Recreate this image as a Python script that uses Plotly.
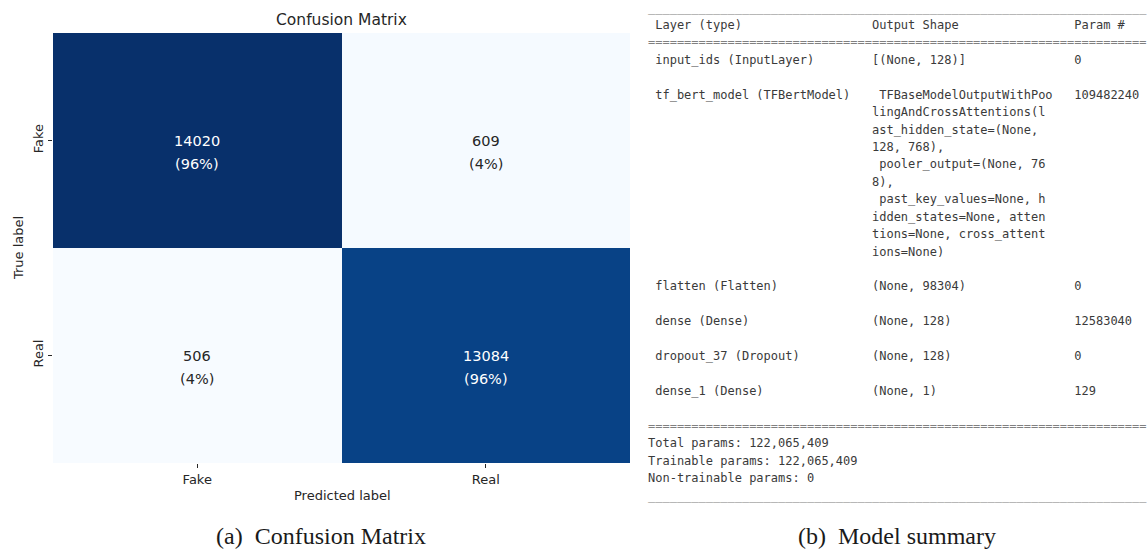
import plotly.graph_objects as go

W, H = 1147, 551

# ---- confusion matrix data ----
class_labels = ["Fake", "Real"]
row_fake = [14020, 609]
row_real = [506, 13084]
cm_rows = [row_fake, row_real]

# ---- model summary data ----
layer_names = [
    "input_ids (InputLayer)",
    "tf_bert_model (TFBertModel)",
    "flatten (Flatten)",
    "dense (Dense)",
    "dropout_37 (Dropout)",
    "dense_1 (Dense)",
]
output_shapes = [
    ["[(None, 128)]"],
    [" TFBaseModelOutputWithPoo", "lingAndCrossAttentions(l", "ast_hidden_state=(None,",
     "128, 768),", " pooler_output=(None, 76", "8),", " past_key_values=None, h",
     "idden_states=None, atten", "tions=None, cross_attent", "ions=None)"],
    ["(None, 98304)"],
    ["(None, 128)"],
    ["(None, 128)"],
    ["(None, 1)"],
]
param_counts = ["0", "109482240", "0", "12583040", "0", "129"]
summary_totals = [
    "Total params: 122,065,409",
    "Trainable params: 122,065,409",
    "Non-trainable params: 0",
]
header = ("Layer (type)", "Output Shape", "Param #")

# Blues colormap stops
blues = ["#f7fbff", "#deebf7", "#c6dbef", "#9ecae1", "#6baed6",
         "#4292c6", "#2171b5", "#08519c", "#08306b"]
colorscale = [[i / (len(blues) - 1), c] for i, c in enumerate(blues)]

flat = [v for r in cm_rows for v in r]
zmin, zmax = min(flat), max(flat)

fig = go.Figure()
fig.add_trace(go.Heatmap(
    z=cm_rows, x=class_labels, y=class_labels,
    colorscale=colorscale, zmin=zmin, zmax=zmax, showscale=False,
    hoverinfo="skip", xgap=0, ygap=0,
))

annotations = []
label_font = dict(family="DejaVu Sans", size=13, color="#262626")

# cell labels: count and row percentage
for ri, row in enumerate(cm_rows):
    total = sum(row)
    for ci, v in enumerate(row):
        col = "white" if v > (zmin + zmax) / 2 else "#262626"
        pct = round(100 * v / total)
        for txt, shift in ((str(v), 0), ("(%d%%)" % pct, -23)):
            annotations.append(dict(
                x=class_labels[ci], y=class_labels[ri], xref="x", yref="y",
                xanchor="center", yanchor="middle",
                text=txt, showarrow=False, yshift=shift,
                font=dict(family="DejaVu Sans", size=14.5, color=col),
            ))

def px(x, y):
    return x / W, 1 - y / H

# panel titles
for txt, (x, y), size, angle in [
    ("Confusion Matrix", (341.5, 20), 15.5, 0),
    ("Predicted label", (342, 495), 13, 0),
    ("True label", (18, 248), 13, -90),
]:
    xx, yy = px(x, y)
    annotations.append(dict(x=xx, y=yy, xref="paper", yref="paper", text=txt,
                            xanchor="center", yanchor="middle",
                            showarrow=False, textangle=angle,
                            font=dict(family="DejaVu Sans", size=size, color="#262626")))

# ---- summary text lines ----
NB = "\u00a0"
COL1, COL2 = 31, 59
RULE_LEN = 69
lines = []
lines.append(("rule", "_" * RULE_LEN))
lines.append(("text", (" " + header[0]).ljust(COL1) + header[1].ljust(COL2 - COL1) + header[2]))
lines.append(("rule", "=" * RULE_LEN))
for name, shapes, params in zip(layer_names, output_shapes, param_counts):
    lines.append(("text", (" " + name).ljust(COL1) + shapes[0].ljust(COL2 - COL1) + params))
    for cont in shapes[1:]:
        lines.append(("text", " " * COL1 + cont))
    lines.append(("text", ""))
lines.append(("rule", "=" * RULE_LEN))
for t in summary_totals:
    lines.append(("text", t))
lines.append(("rule", "_" * RULE_LEN))

line_h = 17.43
y0 = 7.6
x_text = 645.5
for i, (kind, s) in enumerate(lines):
    if not s:
        continue
    xx, yy = px(x_text, y0 + i * line_h)
    annotations.append(dict(
        x=xx, y=yy, xref="paper", yref="paper", xanchor="left", yanchor="middle",
        text=s.replace(" ", NB), showarrow=False, align="left",
        font=dict(family="DejaVu Sans Mono", size=12,
                  color="#808080" if kind == "rule" else "#3a3a3a"),
    ))

# sub-figure captions
for txt, x in (("(a)" + NB + NB + "Confusion Matrix", 321), ("(b)" + NB + NB + "Model summary", 897)):
    xx, yy = px(x, 535.5)
    annotations.append(dict(x=xx, y=yy, xref="paper", yref="paper", text=txt,
                            xanchor="center", yanchor="middle", showarrow=False,
                            borderpad=0,
                            font=dict(family="Liberation Serif", size=24, color="#1a1a1a")))

axis_common = dict(showgrid=False, zeroline=False, showline=False,
                   ticks="outside", ticklen=4, tickwidth=1, tickcolor="#262626",
                   tickfont=label_font, automargin=False, fixedrange=True)

fig.update_layout(
    width=W, height=H,
    margin=dict(l=0, r=0, t=0, b=0),
    paper_bgcolor="white", plot_bgcolor="white",
    xaxis=dict(domain=[53 / W, 630 / W], **axis_common),
    yaxis=dict(domain=[1 - 463 / H, 1 - 33 / H], autorange="reversed",
               tickangle=-90, **axis_common),
    annotations=annotations,
    showlegend=False,
)

fig.write_html("out.html")
